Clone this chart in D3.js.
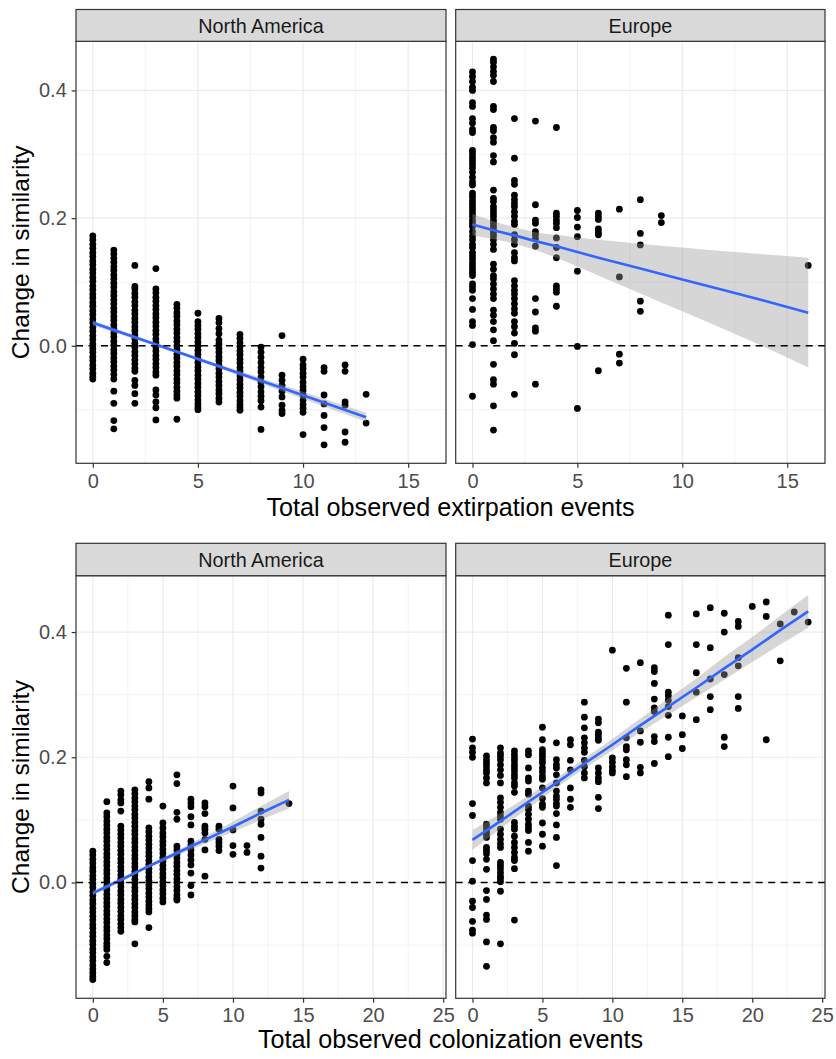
<!DOCTYPE html>
<html><head><meta charset="utf-8">
<script src="https://cdn.jsdelivr.net/npm/d3@7/dist/d3.min.js"></script>
<style>body{margin:0;background:#fff}svg{display:block}text{font-family:"Liberation Sans",Arial,Helvetica,sans-serif}</style>
</head><body><svg id="c" width="836" height="1059"></svg>
<script>
// ---------------- data ----------------
const regions = ["North America", "Europe"];
const yTitle = "Change in similarity";
const xTitleTop = "Total observed extirpation events";
const xTitleBottom = "Total observed colonization events";
const yTickValues = [0.0, 0.2, 0.4];
const yMinorTop = [-0.1, 0.1, 0.3];
const yMinorBottom = [-0.1, 0.1, 0.3];
const xTicksTop = [0, 5, 10, 15];
const xMinorTop = [2.5, 7.5, 12.5];
const xTicksBottom = [0, 5, 10, 15, 20, 25];
const xMinorBottom = [2.5, 7.5, 12.5, 17.5, 22.5];

// North America – extirpation: [events, [change in similarity ...]]
const naExtirpation = [
 [0,[0.172,0.166,0.159,0.153,0.146,0.140,0.133,0.127,0.120,0.114,0.107,0.101,0.094,0.088,0.081,0.075,0.068,0.062,0.055,0.049,0.042,0.036,0.029,0.023,0.016,0.010,0.003,-0.004,-0.010,-0.017,-0.023,-0.030,-0.036,-0.043,-0.048,-0.052]],
 [1,[0.150,0.144,0.137,0.131,0.124,0.118,0.111,0.105,0.098,0.092,0.085,0.079,0.072,0.066,0.059,0.053,0.046,0.040,0.033,0.027,0.020,0.014,0.007,0.001,-0.006,-0.012,-0.019,-0.025,-0.032,-0.038,-0.045,-0.052,-0.071,-0.090,-0.117,-0.130]],
 [2,[0.126,0.093,0.089,0.082,0.076,0.069,0.063,0.056,0.050,0.043,0.037,0.030,0.024,0.017,0.011,0.004,-0.002,-0.009,-0.015,-0.022,-0.028,-0.035,-0.040,-0.054,-0.062,-0.075,-0.090]],
 [3,[0.121,0.089,0.083,0.076,0.070,0.063,0.057,0.050,0.044,0.037,0.031,0.024,0.018,0.011,0.005,-0.002,-0.008,-0.015,-0.021,-0.028,-0.034,-0.041,-0.046,-0.069,-0.077,-0.088,-0.097,-0.116]],
 [4,[0.065,0.059,0.052,0.046,0.039,0.033,0.026,0.020,0.013,0.007,0.000,-0.006,-0.013,-0.019,-0.026,-0.032,-0.039,-0.045,-0.052,-0.058,-0.065,-0.071,-0.077,-0.082,-0.115]],
 [5,[0.051,0.038,0.032,0.026,0.019,0.013,0.006,0.000,-0.007,-0.013,-0.020,-0.026,-0.033,-0.039,-0.046,-0.052,-0.059,-0.065,-0.072,-0.078,-0.085,-0.091,-0.096,-0.100]],
 [6,[0.043,0.036,0.027,0.019,0.009,0.003,-0.004,-0.010,-0.017,-0.023,-0.030,-0.036,-0.043,-0.049,-0.056,-0.062,-0.069,-0.075,-0.082,-0.088]],
 [7,[0.018,0.012,0.005,-0.001,-0.008,-0.014,-0.021,-0.027,-0.034,-0.040,-0.047,-0.053,-0.060,-0.066,-0.073,-0.079,-0.086,-0.092,-0.097,-0.101]],
 [8,[-0.002,-0.010,-0.018,-0.026,-0.034,-0.041,-0.049,-0.057,-0.064,-0.072,-0.079,-0.086,-0.096,-0.131]],
 [9,[0.016,-0.046,-0.054,-0.062,-0.071,-0.080,-0.093,-0.101,-0.106]],
 [10,[-0.021,-0.030,-0.036,-0.043,-0.049,-0.057,-0.064,-0.070,-0.077,-0.085,-0.092,-0.098,-0.104,-0.139]],
 [11,[-0.034,-0.040,-0.077,-0.091,-0.109,-0.128,-0.155]],
 [12,[-0.030,-0.040,-0.088,-0.093,-0.135,-0.151]],
 [13,[-0.076,-0.121]]
];
// Europe – extirpation
const euExtirpation = [
 [0,[0.429,0.422,0.414,0.405,0.400,0.381,0.375,0.356,0.349,0.339,0.334,0.306,0.301,0.295,0.290,0.285,0.279,0.272,0.264,0.257,0.252,0.239,0.234,0.228,0.223,0.218,0.213,0.208,0.203,0.197,0.192,0.187,0.179,0.172,0.166,0.159,0.154,0.146,0.141,0.136,0.130,0.125,0.120,0.115,0.110,0.097,0.092,0.087,0.074,0.057,0.038,0.032,0.002,-0.079]],
 [1,[0.449,0.444,0.437,0.430,0.424,0.414,0.375,0.370,0.342,0.337,0.326,0.319,0.298,0.288,0.244,0.231,0.226,0.218,0.213,0.208,0.203,0.197,0.192,0.187,0.182,0.177,0.172,0.166,0.159,0.151,0.128,0.120,0.110,0.105,0.097,0.089,0.081,0.074,0.056,0.048,0.038,0.025,0.008,-0.029,-0.053,-0.060,-0.094,-0.132]],
 [2,[0.356,0.294,0.259,0.253,0.236,0.229,0.223,0.218,0.210,0.203,0.195,0.190,0.174,0.166,0.159,0.146,0.138,0.133,0.102,0.094,0.087,0.081,0.074,0.066,0.058,0.051,0.038,0.030,0.020,0.004,-0.014,-0.076]],
 [3,[0.352,0.221,0.197,0.192,0.179,0.174,0.168,0.156,0.074,0.053,0.028,0.023,-0.060]],
 [4,[0.342,0.208,0.203,0.197,0.192,0.185,0.169,0.154,0.138,0.094,0.089,0.084,0.062]],
 [5,[0.212,0.201,0.186,0.171,0.117,-0.001,-0.098]],
 [6,[0.208,0.203,0.198,0.183,0.178,0.174,-0.039]],
 [7,[0.214,0.108,-0.013,-0.027]],
 [8,[0.229,0.176,0.158,0.070,0.054]],
 [9,[0.204,0.193]],
 [16,[0.126]]
];
// North America – colonization
const naColonization = [
 [0,[0.050,0.044,0.037,0.031,0.024,0.018,0.011,0.005,-0.002,-0.008,-0.015,-0.021,-0.028,-0.034,-0.041,-0.047,-0.054,-0.060,-0.067,-0.073,-0.080,-0.086,-0.093,-0.099,-0.106,-0.112,-0.119,-0.125,-0.132,-0.138,-0.144,-0.150,-0.155]],
 [1,[0.129,0.111,0.105,0.098,0.092,0.085,0.079,0.072,0.066,0.059,0.053,0.046,0.040,0.033,0.027,0.020,0.014,0.007,0.001,-0.006,-0.012,-0.019,-0.025,-0.032,-0.038,-0.045,-0.051,-0.058,-0.064,-0.071,-0.077,-0.084,-0.090,-0.097,-0.102,-0.107,-0.118,-0.128]],
 [2,[0.146,0.140,0.132,0.127,0.114,0.090,0.084,0.077,0.071,0.064,0.058,0.051,0.045,0.038,0.032,0.025,0.019,0.012,0.006,-0.001,-0.007,-0.014,-0.020,-0.027,-0.033,-0.040,-0.046,-0.053,-0.059,-0.066,-0.072,-0.078]],
 [3,[0.148,0.142,0.135,0.129,0.122,0.116,0.109,0.103,0.096,0.090,0.083,0.077,0.070,0.064,0.057,0.051,0.044,0.038,0.031,0.025,0.018,0.012,0.005,-0.001,-0.008,-0.014,-0.021,-0.027,-0.034,-0.040,-0.047,-0.053,-0.059,-0.063,-0.098]],
 [4,[0.161,0.151,0.133,0.087,0.081,0.074,0.068,0.061,0.055,0.048,0.042,0.035,0.029,0.022,0.016,0.009,0.003,-0.004,-0.010,-0.017,-0.023,-0.030,-0.036,-0.042,-0.047,-0.072]],
 [5,[0.122,0.095,0.087,0.079,0.073,0.066,0.060,0.053,0.047,0.040,0.034,0.027,0.021,0.014,0.008,0.001,-0.005,-0.012,-0.018,-0.025,-0.031]],
 [6,[0.172,0.158,0.112,0.101,0.058,0.052,0.045,0.039,0.032,0.026,0.019,0.013,0.006,0.000,-0.007,-0.013,-0.020,-0.025,-0.028]],
 [7,[0.133,0.127,0.121,0.105,0.092,0.066,0.060,0.052,0.044,0.036,0.028,0.015,-0.005,-0.020]],
 [8,[0.127,0.121,0.110,0.090,0.085,0.079,0.069,0.052,0.010]],
 [9,[0.090,0.085,0.069,0.064,0.058,0.051]],
 [10,[0.154,0.119,0.084,0.059,0.045]],
 [11,[0.059,0.048]],
 [12,[0.148,0.143,0.114,0.101,0.093,0.072,0.042,0.023]],
 [14,[0.126]]
];
// Europe – colonization
const euColonization = [
 [0,[0.229,0.215,0.208,0.200,0.126,0.107,0.035,0.002,-0.030,-0.040,-0.062,-0.076,-0.081]],
 [1,[0.202,0.196,0.191,0.186,0.180,0.175,0.167,0.159,0.093,0.088,0.082,0.077,0.072,0.056,0.051,0.046,0.037,0.021,-0.013,-0.027,-0.052,-0.059,-0.095,-0.134]],
 [2,[0.215,0.207,0.202,0.196,0.188,0.180,0.171,0.159,0.135,0.128,0.120,0.112,0.106,0.101,0.085,0.077,0.069,0.062,0.056,0.032,0.027,0.022,0.016,0.010,0.006,0.001,-0.014,-0.098]],
 [3,[0.210,0.204,0.199,0.194,0.188,0.183,0.178,0.172,0.167,0.159,0.154,0.144,0.096,0.090,0.085,0.074,0.064,0.056,0.048,0.040,0.035,0.022,-0.060]],
 [4,[0.210,0.204,0.183,0.167,0.162,0.146,0.141,0.122,0.117,0.109,0.101,0.093,0.088,0.083,0.064,0.050]],
 [5,[0.248,0.228,0.212,0.207,0.202,0.196,0.191,0.183,0.177,0.170,0.165,0.151,0.134,0.125,0.120,0.095,0.077,0.058]],
 [6,[0.223,0.196,0.188,0.183,0.172,0.159,0.146,0.138,0.133,0.126,0.122,0.110,0.092,0.072,0.027]],
 [7,[0.228,0.220,0.195,0.180,0.151,0.133,0.120]],
 [8,[0.288,0.264,0.247,0.231,0.223,0.215,0.208,0.195,0.185,0.175,0.167]],
 [9,[0.261,0.255,0.240,0.236,0.231,0.227,0.183,0.175,0.167,0.161,0.136,0.118]],
 [10,[0.371,0.199,0.192,0.185,0.179,0.175]],
 [11,[0.342,0.288,0.231,0.217,0.212,0.196,0.188,0.169]],
 [12,[0.351,0.242,0.224,0.184,0.175]],
 [13,[0.343,0.337,0.318,0.293,0.279,0.273,0.233,0.225,0.190]],
 [14,[0.427,0.380,0.304,0.298,0.291,0.281,0.267,0.232,0.201]],
 [15,[0.266,0.236,0.214]],
 [16,[0.429,0.380,0.335,0.304,0.260]],
 [17,[0.439,0.375,0.325,0.297,0.276]],
 [18,[0.430,0.400,0.332,0.232,0.217]],
 [19,[0.417,0.409,0.359,0.346,0.297,0.278]],
 [20,[0.441]],
 [21,[0.448,0.425,0.228]],
 [22,[0.413,0.354]],
 [23,[0.432]],
 [24,[0.416]]
];

// linear fits with 95% confidence band
const naExtFitX = [0, 3, 6, 9, 13];
const naExtFitY = [0.036, 0.002, -0.032, -0.066, -0.112];
const naExtFitLo = [0.032, -0.0005, -0.035, -0.071, -0.119];
const naExtFitHi = [0.040, 0.0045, -0.029, -0.061, -0.105];

const euExtFitX = [0, 1, 2, 3, 4, 6, 8, 10, 12, 14, 16];
const euExtFitY = [0.190, 0.181, 0.173, 0.164, 0.156, 0.138, 0.121, 0.104, 0.087, 0.070, 0.052];
const euExtFitLo = [0.173, 0.167, 0.160, 0.150, 0.138, 0.110, 0.082, 0.054, 0.026, -0.003, -0.034];
const euExtFitHi = [0.207, 0.195, 0.186, 0.178, 0.174, 0.166, 0.160, 0.154, 0.148, 0.143, 0.138];

const naColFitX = [0, 2, 4, 6, 8, 10, 12, 14];
const naColFitY = [-0.017, 0.004, 0.026, 0.047, 0.068, 0.089, 0.111, 0.132];
const naColFitLo = [-0.021, 0.001, 0.023, 0.043, 0.062, 0.081, 0.100, 0.118];
const naColFitHi = [-0.013, 0.007, 0.029, 0.051, 0.074, 0.097, 0.122, 0.146];

const euColFitX = [0, 2, 4, 6, 8, 10, 12, 14, 16, 18, 20, 22, 24];
const euColFitY = [0.068, 0.098, 0.129, 0.159, 0.190, 0.220, 0.251, 0.281, 0.311, 0.342, 0.372, 0.403, 0.433];
const euColFitLo = [0.052, 0.086, 0.119, 0.151, 0.182, 0.211, 0.240, 0.268, 0.296, 0.324, 0.352, 0.380, 0.407];
const euColFitHi = [0.084, 0.110, 0.139, 0.167, 0.198, 0.229, 0.262, 0.294, 0.326, 0.360, 0.392, 0.426, 0.459];

// ---------------- layout ----------------
const FONT = '"Liberation Sans",Arial,Helvetica,sans-serif';
const svg = d3.select("#c");
svg.append("rect").attr("width", 836).attr("height", 1059).attr("fill", "#fff");

const panelX = [[76, 446], [455.7, 825]];
const rows = [
  { stripTop: 9.5, top: 41.3, bottom: 463.3, xDomain: [-0.8, 16.8], yDomain: [-0.184, 0.477],
    xTicks: xTicksTop, xMinor: xMinorTop, yMinor: yMinorTop, title: xTitleTop,
    tickLabelY: 488.5, titleY: 515.5,
    panels: [
      { pts: naExtirpation, fx: naExtFitX, fy: naExtFitY, lo: naExtFitLo, hi: naExtFitHi },
      { pts: euExtirpation, fx: euExtFitX, fy: euExtFitY, lo: euExtFitLo, hi: euExtFitHi }
    ] },
  { stripTop: 543.3, top: 575.7, bottom: 998.3, xDomain: [-1.2, 25.2], yDomain: [-0.185, 0.490],
    xTicks: xTicksBottom, xMinor: xMinorBottom, yMinor: yMinorBottom, title: xTitleBottom,
    tickLabelY: 1022.5, titleY: 1047.5,
    panels: [
      { pts: naColonization, fx: naColFitX, fy: naColFitY, lo: naColFitLo, hi: naColFitHi },
      { pts: euColonization, fx: euColFitX, fy: euColFitY, lo: euColFitLo, hi: euColFitHi }
    ] }
];

rows.forEach((row, ri) => {
  const y = d3.scaleLinear().domain(row.yDomain).range([row.bottom, row.top]);
  row.panels.forEach((p, pi) => {
    const [x0, x1] = panelX[pi];
    const x = d3.scaleLinear().domain(row.xDomain).range([x0, x1]);
    const g = svg.append("g");
    const clipId = `clip${ri}${pi}`;
    svg.append("clipPath").attr("id", clipId).append("rect")
      .attr("x", x0).attr("y", row.top).attr("width", x1 - x0).attr("height", row.bottom - row.top);
    const inner = g.append("g").attr("clip-path", `url(#${clipId})`);

    // grid
    inner.selectAll(".gxm").data(row.xMinor.filter(v => v > row.xDomain[0] && v < row.xDomain[1])).join("line")
      .attr("x1", d => x(d)).attr("x2", d => x(d)).attr("y1", row.top).attr("y2", row.bottom)
      .attr("stroke", "#EBEBEB").attr("stroke-width", 0.6);
    inner.selectAll(".gym").data(row.yMinor.filter(v => v > row.yDomain[0] && v < row.yDomain[1])).join("line")
      .attr("y1", d => y(d)).attr("y2", d => y(d)).attr("x1", x0).attr("x2", x1)
      .attr("stroke", "#EBEBEB").attr("stroke-width", 0.6);
    inner.selectAll(".gx").data(row.xTicks.filter(v => v > row.xDomain[0] && v < row.xDomain[1])).join("line")
      .attr("x1", d => x(d)).attr("x2", d => x(d)).attr("y1", row.top).attr("y2", row.bottom)
      .attr("stroke", "#EBEBEB").attr("stroke-width", 1.2);
    inner.selectAll(".gy").data(yTickValues).join("line")
      .attr("y1", d => y(d)).attr("y2", d => y(d)).attr("x1", x0).attr("x2", x1)
      .attr("stroke", "#EBEBEB").attr("stroke-width", 1.2);

    // points
    const flat = p.pts.flatMap(([ev, ys]) => ys.map(v => ({ ev, v })));
    inner.append("g").selectAll("circle").data(flat).join("circle")
      .attr("cx", d => x(d.ev)).attr("cy", d => y(d.v)).attr("r", 3.4).attr("fill", "#000");

    // confidence band + fit line
    const fit = p.fx.map((v, i) => ({ x: v, y: p.fy[i], lo: p.lo[i], hi: p.hi[i] }));
    inner.append("path").datum(fit)
      .attr("d", d3.area().x(d => x(d.x)).y0(d => y(d.lo)).y1(d => y(d.hi)).curve(d3.curveMonotoneX))
      .attr("fill", "#999999").attr("fill-opacity", 0.4);
    inner.append("path").datum(fit)
      .attr("d", d3.line().x(d => x(d.x)).y(d => y(d.y)))
      .attr("fill", "none").attr("stroke", "#3366FF").attr("stroke-width", 2.6);

    // zero reference line
    inner.append("line").attr("x1", x0).attr("x2", x1).attr("y1", y(0)).attr("y2", y(0))
      .attr("stroke", "#000").attr("stroke-width", 1.5).attr("stroke-dasharray", "7,5.5");

    // panel border
    g.append("rect").attr("x", x0).attr("y", row.top).attr("width", x1 - x0).attr("height", row.bottom - row.top)
      .attr("fill", "none").attr("stroke", "#333333").attr("stroke-width", 1.2);

    // strip
    g.append("rect").attr("x", x0).attr("y", row.stripTop).attr("width", x1 - x0).attr("height", row.top - row.stripTop)
      .attr("fill", "#D9D9D9").attr("stroke", "#333333").attr("stroke-width", 1.2);
    g.append("text").attr("x", (x0 + x1) / 2).attr("y", (row.stripTop + row.top) / 2 + 0.8)
      .attr("text-anchor", "middle").attr("dy", "0.35em")
      .attr("font-size", 19.8).attr("fill", "#1A1A1A").style("font-family", FONT).text(regions[pi]);

    // x axis
    const xa = g.append("g").attr("transform", `translate(0,${row.bottom})`)
      .call(d3.axisBottom(x).tickValues(row.xTicks).tickFormat(d3.format("d")).tickSize(4.4).tickPadding(3));
    xa.select(".domain").remove();
    xa.selectAll(".tick line").attr("stroke", "#333333").attr("stroke-width", 1.2);
    xa.selectAll(".tick text").attr("fill", "#4D4D4D").attr("font-size", 20).style("font-family", FONT)
      .attr("dy", null).attr("y", row.tickLabelY - row.bottom);

    // y axis (left panels only)
    if (pi === 0) {
      const ya = g.append("g").attr("transform", `translate(${x0},0)`)
        .call(d3.axisLeft(y).tickValues(yTickValues).tickFormat(d3.format(".1f")).tickSize(4.4).tickPadding(4.8));
      ya.select(".domain").remove();
      ya.selectAll(".tick line").attr("stroke", "#333333").attr("stroke-width", 1.2);
      ya.selectAll(".tick text").attr("fill", "#4D4D4D").attr("font-size", 20).style("font-family", FONT);
    }
  });

  // axis titles
  svg.append("text").attr("x", (panelX[0][0] + panelX[1][1]) / 2).attr("y", row.titleY)
    .attr("text-anchor", "middle").attr("font-size", 25.2).attr("fill", "#000").style("font-family", FONT)
    .text(row.title);
  svg.append("text").attr("transform", `translate(29,${(row.top + row.bottom) / 2}) rotate(-90)`)
    .attr("text-anchor", "middle").attr("font-size", 24.5).attr("fill", "#000").style("font-family", FONT)
    .text(yTitle);
});
</script></body></html>
